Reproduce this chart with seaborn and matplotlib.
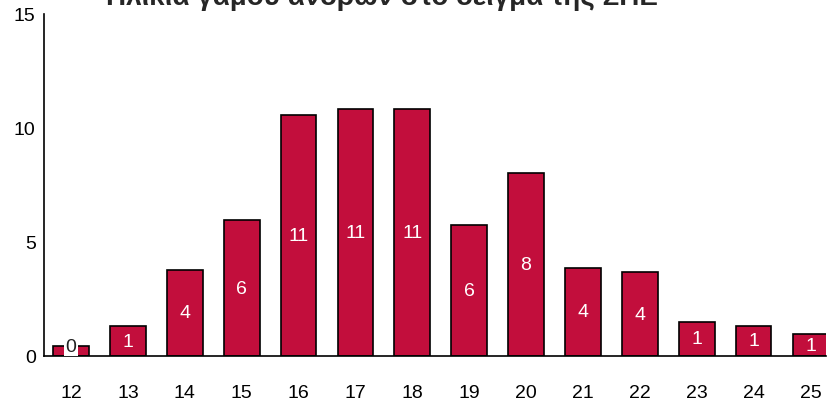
import numpy as np
import pandas as pd
import matplotlib
matplotlib.use("Agg")
import matplotlib.pyplot as plt
import seaborn as sns

ages = [12, 13, 14, 15, 16, 17, 18, 19, 20, 21, 22, 23, 24, 25]
counts = [0.45, 1.3, 3.77, 5.96, 10.57, 10.83, 10.83, 5.75, 8.03, 3.86, 3.68, 1.49, 1.32, 0.96]
title = "Ηλικία γάμου ανδρών στο δείγμα της ΣΠΕ"

df = pd.DataFrame({"age": [str(a) for a in ages], "count": counts})

sns.set_style("white")
plt.rcParams['font.family'] = ['Liberation Sans', 'DejaVu Sans']

fig = plt.figure(figsize=(8.35, 4.02), dpi=100)
ax = fig.add_axes([0.0527, 0.112, 0.9363, 0.851])

sns.barplot(data=df, x="age", y="count", color="#C20E3C", saturation=1,
            width=0.63, edgecolor="black", linewidth=1.2, ax=ax)

for i, v in enumerate(counts):
    if v > 0.8:
        ax.text(i, v / 2, f"{int(round(v))}", ha="center", va="center",
                color="white", fontsize=14)
    else:
        ax.text(i, 0.05, f"{int(round(v))}", ha="center", va="bottom",
                color="#222222", fontsize=14,
                bbox=dict(facecolor="white", edgecolor="none", pad=1))

ax.set_xlim(-0.475, 13.27)
ax.set_ylim(0, 15)
ax.set_yticks([0, 5, 10, 15])
ax.set_xlabel("")
ax.set_ylabel("")
ax.tick_params(axis="x", length=0, pad=20, labelsize=14, colors="black")
ax.tick_params(axis="y", length=0, pad=6, labelsize=14, colors="black")
for s in ["top", "right"]:
    ax.spines[s].set_visible(False)
for s in ["left", "bottom"]:
    ax.spines[s].set_color("black")
    ax.spines[s].set_linewidth(1.2)

fig.text(0.458, 1 - 5 / 402, title, ha="center", va="baseline",
         fontsize=20, fontweight="bold")

fig.savefig("out.png", dpi=100)
